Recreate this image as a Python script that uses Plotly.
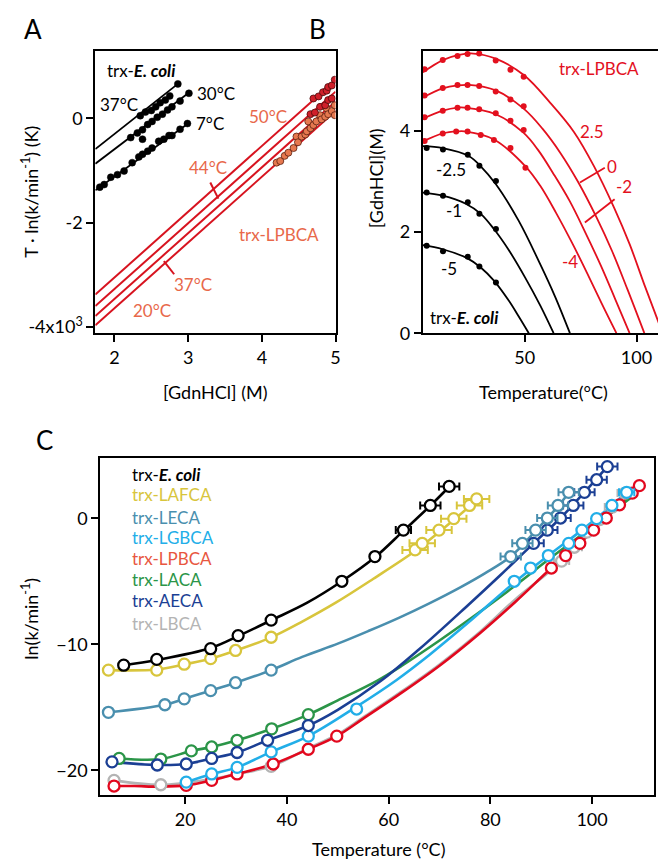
import plotly.graph_objects as go

FONT = "Lato"
W, H = 666, 864

# ---------------- Panel A data ----------------
A_ecoli_37_x = [2.35, 2.42, 2.50, 2.56, 2.62, 2.69, 2.75, 2.86]
A_ecoli_37_y = [0.05, 0.12, 0.15, 0.22, 0.30, 0.35, 0.43, 0.66]
A_ecoli_30_x = [2.22, 2.31, 2.38, 2.38, 2.45, 2.51, 2.58, 2.65, 2.72, 2.78, 2.89, 3.01]
A_ecoli_30_y = [-0.37, -0.28, -0.22, -0.40, -0.12, -0.06, 0.02, 0.08, 0.16, 0.22, 0.33, 0.48]
A_ecoli_7_x = [1.80, 1.86, 1.95, 2.04, 2.13, 2.24, 2.33, 2.38, 2.45, 2.51, 2.60, 2.67, 2.74, 2.78, 2.89, 2.99]
A_ecoli_7_y = [-1.32, -1.27, -1.13, -1.08, -1.01, -0.85, -0.74, -0.69, -0.63, -0.57, -0.44, -0.40, -0.33, -0.33, -0.21, -0.10]
A_fit_ecoli_x = [[1.74, 2.86], [1.74, 3.00], [1.74, 3.00]]
A_fit_ecoli_y = [[-0.59, 0.66], [-0.87, 0.48], [-1.38, -0.10]]
A_fit_lpbca_x = [1.74, 5.00]
A_fit_lpbca_y = [[-3.38, 0.73], [-3.60, 0.51], [-3.79, 0.32], [-3.97, 0.14]]
A_dark_x = [4.70, 4.77, 4.83, 4.88, 4.90, 4.95, 4.99, 4.66, 4.72, 4.79, 4.86, 4.90, 4.95]
A_dark_y = [0.38, 0.42, 0.50, 0.53, 0.60, 0.63, 0.74, 0.08, 0.11, 0.22, 0.25, 0.35, 0.38]
A_orange_x = [4.20, 4.25, 4.31, 4.36, 4.43, 4.47, 4.49, 4.54, 4.59, 4.61, 4.63, 4.66, 4.70, 4.74,
              4.79, 4.81, 4.86, 4.88, 4.90, 4.95, 4.99, 4.99]
A_orange_y = [-0.85, -0.82, -0.72, -0.66, -0.57, -0.35, -0.46, -0.35, -0.31, -0.25, -0.06, -0.19, -0.13,
              -0.06, 0.06, -0.02, 0.03, 0.19, 0.08, 0.14, 0.25, 0.06]

# ---------------- Panel B data ----------------
B_black_labels = ["-2.5", "-1", "-5"]
B_black_dot_T = [6.1, 13.4, 24.5, 29.7, 37.1]
B_black_dot_G = [[3.66, 3.63, 3.53, 3.31, 3.01],
                 [2.78, 2.72, 2.59, 2.36, 2.06],
                 [1.73, 1.62, 1.51, 1.32, 1.00]]
B_black_curve_T = [[4.4, 13.3, 25.1, 30.3, 37.0, 47.3, 56.2, 63.6, 70.2],
                   [4.4, 13.3, 23.6, 30.3, 36.2, 42.9, 50.3, 56.9, 62.9],
                   [4.4, 13.3, 24.4, 30.3, 36.2, 42.9, 47.3, 51.8]]
B_black_curve_G = [[3.70, 3.66, 3.50, 3.30, 2.95, 2.22, 1.43, 0.72, 0.0],
                   [2.78, 2.72, 2.56, 2.36, 2.06, 1.64, 1.09, 0.55, 0.0],
                   [1.74, 1.66, 1.48, 1.30, 1.04, 0.64, 0.33, 0.0]]
B_red_labels = ["2.5", "0", "-2", "-4"]
B_red_dot_T = [[5.2, 13.3, 19.9, 24.4, 29.6, 37.0, 43.6, 49.5],
               [5.2, 13.3, 19.9, 24.4, 29.6, 37.0, 43.6, 49.5],
               [5.2, 13.3, 19.9, 24.4, 29.6, 37.0, 43.6, 49.5],
               [5.2, 13.3, 19.3, 24.4, 30.3, 36.2, 43.6, 50.3]]
B_red_dot_G = [[5.22, 5.40, 5.48, 5.52, 5.53, 5.39, 5.21, 5.07],
               [4.70, 4.85, 4.91, 4.91, 4.89, 4.78, 4.62, 4.49],
               [4.27, 4.40, 4.46, 4.46, 4.43, 4.35, 4.20, 4.02],
               [3.80, 3.95, 3.99, 3.99, 3.92, 3.82, 3.66, 3.27]]
B_red_curve_T = [[4.4, 13.3, 20.0, 27.0, 37.0, 49.7, 61.5, 72.0, 81.0, 90.0, 97.0, 104.0, 111.7],
                 [4.4, 13.3, 20.0, 25.0, 37.0, 49.5, 58.0, 66.0, 74.0, 82.0, 89.0, 96.0, 103.5],
                 [4.4, 13.3, 20.0, 23.0, 37.0, 49.5, 56.0, 63.0, 70.0, 77.0, 84.0, 90.5, 96.9],
                 [4.4, 13.3, 20.0, 23.0, 36.2, 50.3, 57.0, 64.0, 71.0, 78.0, 84.5, 91.0]]
B_red_curve_G = [[5.16, 5.40, 5.50, 5.53, 5.43, 5.10, 4.55, 3.98, 3.30, 2.48, 1.75, 0.90, 0.0],
                 [4.66, 4.84, 4.90, 4.91, 4.80, 4.44, 4.04, 3.56, 2.98, 2.30, 1.63, 0.86, 0.0],
                 [4.24, 4.40, 4.46, 4.46, 4.33, 3.96, 3.62, 3.14, 2.62, 2.00, 1.34, 0.67, 0.0],
                 [3.79, 3.95, 3.99, 3.99, 3.83, 3.30, 2.91, 2.38, 1.80, 1.18, 0.58, 0.0]]

# ---------------- Panel C data ----------------
C_names = ["trx-<b><i>E. coli</i></b>", "trx-LAFCA", "trx-LECA", "trx-LGBCA",
           "trx-LPBCA", "trx-LACA", "trx-AECA", "trx-LBCA"]
C_colors = ["#000000", "#d8c53c", "#4a8fae", "#22aee8", "#e2081e", "#2b9548", "#1b3f94", "#b4b4b4"]
C_text_colors = ["#000000", "#d8c53c", "#4a8fae", "#22aee8", "#e8573f", "#2b9548", "#1b3f94", "#b4b4b4"]

ecoli_T = [7.9, 14.4, 25.0, 30.4, 36.9, 50.8, 57.3, 62.9, 68.2, 71.9]
ecoli_k = [-11.66, -11.2, -10.35, -9.31, -8.08, -5.0, -3.04, -0.94, 1.02, 2.53]
ecoli_e = [0, 0, 0, 0, 0, 0, 0, 1.5, 2.0, 2.0]
ecoli_cT = [7.9, 14.4, 25.0, 30.4, 36.9, 44.0, 50.8, 57.3, 62.9, 68.2, 71.9]
ecoli_ck = [-11.66, -11.25, -10.3, -9.35, -8.1, -6.7, -5.0, -3.1, -1.0, 1.0, 2.5]

lafca_T = [4.9, 14.4, 19.8, 25.0, 29.9, 36.9, 65.2, 66.6, 69.9, 72.8, 75.9, 77.3]
lafca_k = [-12.05, -12.05, -11.58, -11.14, -10.49, -9.44, -2.51, -1.99, -0.94, -0.03, 1.02, 1.54]
lafca_e = [0, 0, 0, 0, 0, 0, 2.5, 2.5, 2.5, 2.5, 2.5, 2.5]
lafca_cT = [4.9, 14.4, 19.8, 25.0, 29.9, 36.9, 43.0, 49.6, 57.0, 65.2, 69.9, 75.9, 77.3]
lafca_ck = [-12.05, -12.0, -11.6, -11.15, -10.5, -9.45, -8.2, -6.7, -4.8, -2.6, -1.1, 0.95, 1.5]

leca_T = [4.9, 16.0, 19.8, 25.0, 29.9, 36.9, 84.0, 86.3, 88.9, 91.2, 93.3, 95.4]
leca_k = [-15.4, -14.8, -14.33, -13.68, -13.05, -12.05, -3.04, -1.99, -0.94, 0.02, 1.02, 2.06]
leca_e = [0, 0, 0, 0, 0, 0, 2.0, 2.0, 2.0, 2.0, 2.0, 2.0]
leca_cT = [4.9, 16.0, 19.8, 25.0, 29.9, 36.9, 43.0, 50.0, 56.0, 62.0, 68.0, 74.0, 79.0, 84.0, 88.9, 93.3, 95.4]
leca_ck = [-15.4, -14.8, -14.33, -13.68, -13.05, -12.05, -11.0, -9.95, -8.95, -7.9, -6.75, -5.5, -4.35, -3.04, -1.0, 0.95, 2.0]

lgbca_T = [20.2, 25.2, 30.2, 36.9, 44.2, 53.7, 84.7, 87.9, 91.4, 95.4, 98.0, 100.9, 103.9, 106.8]
lgbca_k = [-20.94, -20.29, -19.77, -18.54, -17.29, -15.14, -5.0, -3.95, -2.96, -1.99, -0.94, -0.03, 1.02, 2.06]
lgbca_e = [0, 0, 0, 0, 0, 0, 0, 0, 0, 0, 0, 0, 0, 1.5]
lgbca_cT = [20.2, 25.2, 30.2, 36.9, 44.2, 53.7, 61.5, 68.0, 75.6, 84.7, 91.4, 98.0, 103.9, 106.8]
lgbca_ck = [-20.94, -20.29, -19.77, -18.54, -17.29, -14.95, -12.85, -10.85, -8.3, -5.1, -2.96, -0.94, 1.02, 2.06]

lpbca_T = [6.0, 20.2, 25.2, 30.2, 37.3, 44.2, 49.8, 92.0, 94.8, 97.6, 100.3, 102.8, 105.4, 107.9, 109.3]
lpbca_k = [-21.25, -21.2, -20.8, -20.29, -19.5, -18.33, -17.29, -3.95, -2.96, -1.99, -0.94, 0.02, 1.07, 2.0, 2.59]
lpbca_e = [0] * 15
lpbca_cT = [6.0, 10.0, 15.0, 20.2, 25.2, 30.2, 37.3, 44.2, 49.8, 55.0, 62.0, 70.0, 78.0, 85.0, 92.0, 97.6, 102.8, 107.9, 109.3]
lpbca_ck = [-21.25, -21.25, -21.3, -21.2, -20.8, -20.29, -19.5, -18.33, -17.29, -15.9, -14.0, -11.7, -9.1, -6.6, -3.95, -1.99, 0.02, 2.0, 2.59]

laca_T = [7.0, 15.2, 21.2, 25.2, 30.2, 37.0, 44.2]
laca_k = [-19.06, -19.11, -18.46, -18.15, -17.62, -16.71, -15.58]
laca_e = [0] * 7
laca_cT = [7.0, 15.2, 21.2, 25.2, 30.2, 37.0, 44.2, 50.0, 57.7, 62.6, 70.0, 77.0, 84.7, 92.0, 100.0, 107.5]
laca_ck = [-19.06, -19.11, -18.46, -18.15, -17.62, -16.71, -15.58, -14.45, -12.9, -11.7, -9.7, -7.7, -5.4, -3.1, -0.7, 1.6]

aeca_T = [5.6, 14.5, 20.2, 25.2, 30.2, 36.2, 44.2, 88.5, 91.2, 93.8, 96.3, 98.5, 100.9, 103.0]
aeca_k = [-19.33, -19.58, -19.5, -19.06, -18.59, -17.62, -16.45, -1.99, -0.94, 0.02, 1.02, 2.06, 3.06, 4.1]
aeca_e = [0, 0, 0, 0, 0, 0, 0, 2.0, 2.0, 2.0, 2.0, 2.0, 2.0, 2.0]
aeca_cT = [5.6, 14.5, 20.2, 25.2, 30.2, 36.2, 44.2, 50.0, 58.5, 66.0, 75.6, 82.0, 88.5, 93.8, 98.5, 103.0]
aeca_ck = [-19.33, -19.58, -19.5, -19.06, -18.59, -17.62, -16.45, -15.2, -12.9, -10.4, -6.9, -4.5, -1.99, 0.02, 2.06, 4.1]

lbca_T = [6.0, 15.2, 36.9, 94.0, 96.5, 99.0, 101.5, 104.0, 106.5]
lbca_k = [-20.8, -21.15, -19.69, -3.4, -2.3, -1.1, -0.1, 0.9, 2.0]
lbca_e = [0, 0, 0, 1.5, 1.5, 1.5, 1.5, 1.5, 1.5]
lbca_cT = [6.0, 15.2, 25.0, 30.0, 36.9, 44.2, 49.8, 55.0, 62.0, 70.0, 78.0, 85.0, 94.0, 99.0, 104.0, 106.5]
lbca_ck = [-20.8, -21.15, -20.7, -20.3, -19.69, -18.25, -17.2, -15.8, -13.9, -11.6, -9.0, -6.4, -3.4, -1.1, 0.9, 2.0]

C_series = [
    (ecoli_T, ecoli_k, ecoli_e, ecoli_cT, ecoli_ck),
    (lafca_T, lafca_k, lafca_e, lafca_cT, lafca_ck),
    (leca_T, leca_k, leca_e, leca_cT, leca_ck),
    (lgbca_T, lgbca_k, lgbca_e, lgbca_cT, lgbca_ck),
    (lpbca_T, lpbca_k, lpbca_e, lpbca_cT, lpbca_ck),
    (laca_T, laca_k, laca_e, laca_cT, laca_ck),
    (aeca_T, aeca_k, aeca_e, aeca_cT, aeca_ck),
    (lbca_T, lbca_k, lbca_e, lbca_cT, lbca_ck),
]
C_draw_order = [7, 4, 5, 3, 6, 2, 1, 0]

# ---------------- Figure ----------------
fig = go.Figure()

RED = "#d7131f"
RED_B = "#e3101e"
ORANGE_TXT = "#e8684a"

# Panel A lines
for xs, ys in zip(A_fit_ecoli_x, A_fit_ecoli_y):
    fig.add_trace(go.Scatter(x=xs, y=ys, mode="lines", line=dict(color="black", width=1.8),
                             xaxis="x", yaxis="y", hoverinfo="skip"))
for ys in A_fit_lpbca_y:
    fig.add_trace(go.Scatter(x=A_fit_lpbca_x, y=ys, mode="lines", line=dict(color=RED, width=2),
                             xaxis="x", yaxis="y", hoverinfo="skip"))
for xs, ys in [(A_ecoli_37_x, A_ecoli_37_y), (A_ecoli_30_x, A_ecoli_30_y), (A_ecoli_7_x, A_ecoli_7_y)]:
    fig.add_trace(go.Scatter(x=xs, y=ys, mode="markers",
                             marker=dict(color="black", size=7, line=dict(color="black", width=0.5)),
                             xaxis="x", yaxis="y"))
fig.add_trace(go.Scatter(x=A_orange_x, y=A_orange_y, mode="markers",
                         marker=dict(color="#e6784f", size=7, line=dict(color="#5a2010", width=0.8)),
                         xaxis="x", yaxis="y"))
fig.add_trace(go.Scatter(x=A_dark_x, y=A_dark_y, mode="markers",
                         marker=dict(color="#d01f2a", size=7, line=dict(color="#4a0a0a", width=0.8)),
                         xaxis="x", yaxis="y"))

# Panel B
for cT, cG in zip(B_black_curve_T, B_black_curve_G):
    fig.add_trace(go.Scatter(x=cT, y=cG, mode="lines", line=dict(color="black", width=1.8, shape="spline"),
                             xaxis="x2", yaxis="y2"))
for dG in B_black_dot_G:
    fig.add_trace(go.Scatter(x=B_black_dot_T, y=dG, mode="markers", marker=dict(color="black", size=6),
                             xaxis="x2", yaxis="y2"))
for cT, cG in zip(B_red_curve_T, B_red_curve_G):
    fig.add_trace(go.Scatter(x=cT, y=cG, mode="lines", line=dict(color=RED_B, width=1.8, shape="spline"),
                             xaxis="x2", yaxis="y2"))
for dT, dG in zip(B_red_dot_T, B_red_dot_G):
    fig.add_trace(go.Scatter(x=dT, y=dG, mode="markers", marker=dict(color=RED_B, size=6),
                             xaxis="x2", yaxis="y2"))

# Panel C
for i in C_draw_order:
    T, k, e, cT, ck = C_series[i]
    col = C_colors[i]
    fig.add_trace(go.Scatter(x=cT, y=ck, mode="lines", line=dict(color=col, width=2.6, shape="spline"),
                             xaxis="x3", yaxis="y3"))
for i in C_draw_order:
    T, k, e, cT, ck = C_series[i]
    col = C_colors[i]
    fig.add_trace(go.Scatter(x=T, y=k, mode="markers",
                             marker=dict(symbol="circle", size=11, color="white", line=dict(color=col, width=2.3)),
                             error_x=dict(type="data", array=e, color=col, thickness=2, width=4,
                                          visible=True),
                             xaxis="x3", yaxis="y3"))

# ---------------- Axes ----------------
def ax(**kw):
    d = dict(showline=True, linecolor="black", linewidth=2, mirror=True, ticks="outside",
             ticklen=7, tickwidth=1.5, tickcolor="black", showgrid=False, zeroline=False,
             tickfont=dict(size=18, family=FONT, color="black"))
    d.update(kw)
    return d

yA = [1 - 329 / H, 1 - 43 / H]
yC = [1 - 796.7 / H, 1 - 455.7 / H]
fig.update_layout(
    width=W, height=H, margin=dict(l=0, r=0, t=0, b=0),
    paper_bgcolor="white", plot_bgcolor="white", showlegend=False,
    font=dict(family=FONT, size=18, color="black"),
    xaxis=ax(domain=[88 / W, 330 / W], range=[1.74, 5.0], tickvals=[2, 3, 4, 5], anchor="y"),
    yaxis=ax(domain=yA, range=[-4.12, 1.30], tickvals=[-4, -2, 0],
             ticktext=["-4x10<sup>3</sup>", "-2", "0"], anchor="x"),
    xaxis2=ax(domain=[418 / W, 663 / W], range=[4.4, 113.2], tickvals=[50, 100], anchor="y2"),
    yaxis2=ax(domain=yA, range=[0, 5.59], tickvals=[0, 2, 4], anchor="x2"),
    xaxis3=ax(domain=[93 / W, 651 / W], range=[3.3, 112.2], tickvals=[20, 40, 60, 80, 100], anchor="y3"),
    yaxis3=ax(domain=yC, range=[-22.0, 4.75], tickvals=[-20, -10, 0], anchor="x3"),
)

ann = []
def t(x, y, text, xref, yref, color="black", size=18, xanchor="center", yanchor="middle", angle=0):
    ann.append(dict(x=x, y=y, text=text, xref=xref, yref=yref, showarrow=False,
                    font=dict(family=FONT, size=size, color=color), xanchor=xanchor,
                    yanchor=yanchor, textangle=angle))

# Panel letters
t(25 / W, 1 - 21 / H, "A", "paper", "paper", size=26)
t(312 / W, 1 - 21 / H, "B", "paper", "paper", size=26)
t(37 / W, 1 - 437 / H, "C", "paper", "paper", size=26)

# Panel A texts
t(1.865, 0.92, "trx-<b><i>E. coli</i></b>", "x", "y", xanchor="left", size=17)
t(1.77, 0.26, "37°C", "x", "y", xanchor="left", size=17)
t(3.09, 0.47, "30°C", "x", "y", xanchor="left", size=17)
t(3.08, -0.10, "7°C", "x", "y", xanchor="left", size=17)
t(3.80, 0.03, "50°C", "x", "y", color=ORANGE_TXT, xanchor="left", size=17)
t(2.99, -0.95, "44°C", "x", "y", color=ORANGE_TXT, xanchor="left", size=17)
t(3.66, -2.23, "trx-LPBCA", "x", "y", color=ORANGE_TXT, xanchor="left", size=17)
t(2.78, -3.18, "37°C", "x", "y", color=ORANGE_TXT, xanchor="left", size=17)
t(2.22, -3.68, "20°C", "x", "y", color=ORANGE_TXT, xanchor="left", size=17)
t(209 / W, 1 - 389 / H, "[GdnHCl] (M)", "paper", "paper", size=18)
t(22 / W, 1 - 186 / H, "T · ln(k/min<sup>-1</sup>) (K)", "paper", "paper", size=18, angle=-90)

# Panel B texts
t(83.4, 5.24, "trx-LPBCA", "x2", "y2", color=RED_B, size=17)
t(79.9, 3.99, "2.5", "x2", "y2", color=RED_B, size=17)
t(88.9, 3.30, "0", "x2", "y2", color=RED_B, size=17)
t(94.2, 2.91, "-2", "x2", "y2", color=RED_B, size=17)
t(70.2, 1.41, "-4", "x2", "y2", color=RED_B, size=17)
t(17.0, 3.24, "-2.5", "x2", "y2", size=17)
t(18.5, 2.42, "-1", "x2", "y2", size=17)
t(16.3, 1.28, "-5", "x2", "y2", size=17)
t(6.6, 0.31, "trx-<b><i>E. coli</i></b>", "x2", "y2", xanchor="left", size=17)
t(540 / W, 1 - 389 / H, "Temperature(°C)", "paper", "paper", size=18)
t(371 / W, 1 - 172 / H, "[GdnHCl](M)", "paper", "paper", size=18, angle=-90)

# Panel C legend texts
C_leg_y = [3.50, 1.85, 0.10, -1.52, -3.18, -4.88, -6.56, -8.35]
for name, col, yy in zip(C_names, C_text_colors, C_leg_y):
    t(9.17, yy, name, "x3", "y3", color=col, xanchor="left", size=17)
t(373 / W, 1 - 851 / H, "Temperature (°C)", "paper", "paper", size=18)
t(22 / W, 1 - 618 / H, "ln(k/min<sup>-1</sup>)", "paper", "paper", size=18, angle=-90)

fig.update_layout(annotations=ann)

# leader lines
shapes = [
    dict(type="line", xref="x", yref="y", x0=3.30, y0=-1.23, x1=3.41, y1=-1.54, line=dict(color=RED, width=2)),
    dict(type="line", xref="x", yref="y", x0=2.67, y0=-2.74, x1=2.81, y1=-2.99, line=dict(color=RED, width=2)),
    dict(type="line", xref="x2", yref="y2", x0=74.7, y0=2.98, x1=85.8, y1=3.27, line=dict(color=RED_B, width=1.8)),
    dict(type="line", xref="x2", yref="y2", x0=76.9, y0=2.19, x1=90.2, y1=2.65, line=dict(color=RED_B, width=1.8)),
]
fig.update_layout(shapes=shapes)

fig.write_html("out.html")
